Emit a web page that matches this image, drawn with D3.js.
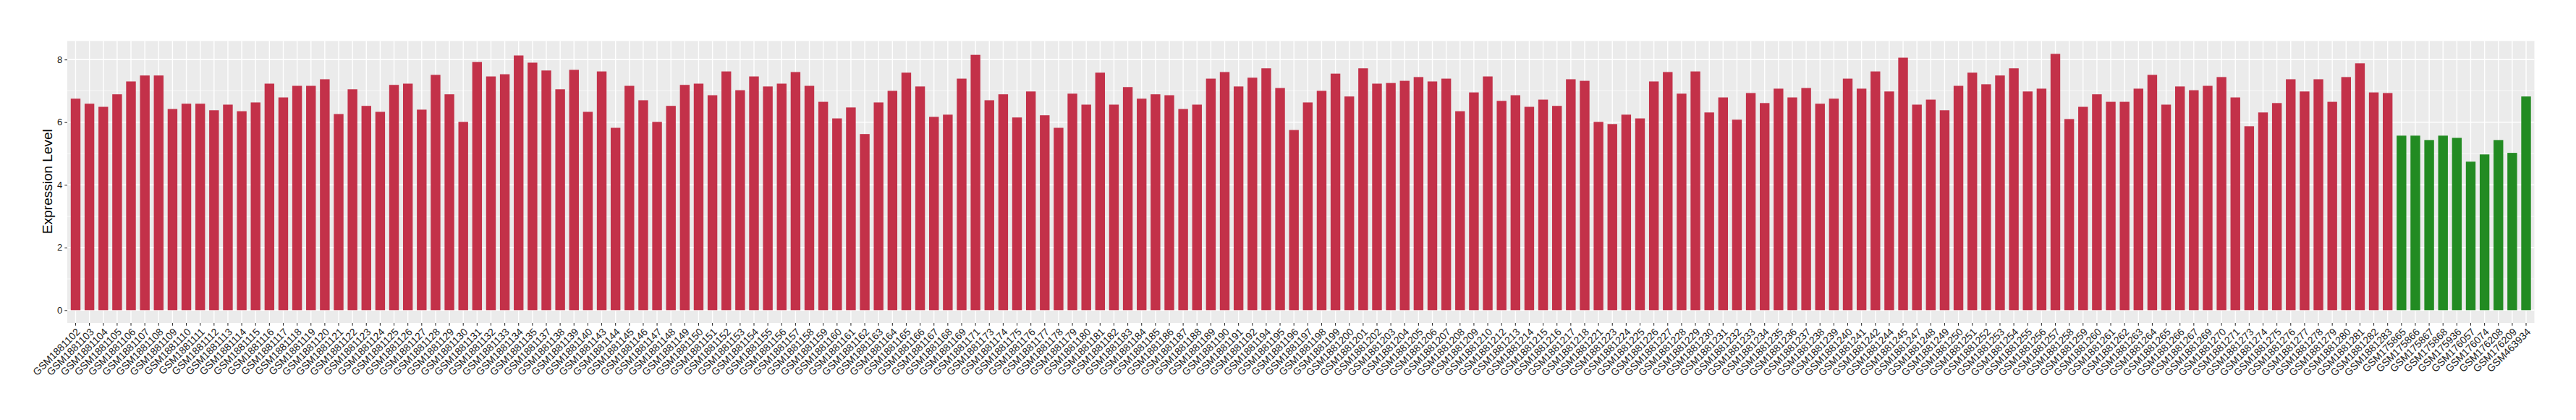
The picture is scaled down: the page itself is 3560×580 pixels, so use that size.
<!DOCTYPE html>
<html>
<head>
<meta charset="utf-8">
<script src="https://cdn.jsdelivr.net/npm/d3@7"></script>
<style>
  html, body { margin: 0; padding: 0; background: #fff; }
  svg { display: block; }
</style>
</head>
<body>
<svg id="chart" width="3560" height="580"></svg>
<script>
const redSamples = [
  "GSM1881102","GSM1881103","GSM1881104","GSM1881105","GSM1881106","GSM1881107","GSM1881108","GSM1881109","GSM1881110","GSM1881111",
  "GSM1881112","GSM1881113","GSM1881114","GSM1881115","GSM1881116","GSM1881117","GSM1881118","GSM1881119","GSM1881120","GSM1881121",
  "GSM1881122","GSM1881123","GSM1881124","GSM1881125","GSM1881126","GSM1881127","GSM1881128","GSM1881129","GSM1881130","GSM1881131",
  "GSM1881132","GSM1881133","GSM1881134","GSM1881135","GSM1881137","GSM1881138","GSM1881139","GSM1881140","GSM1881143","GSM1881144",
  "GSM1881145","GSM1881146","GSM1881147","GSM1881148","GSM1881149","GSM1881150","GSM1881151","GSM1881152","GSM1881153","GSM1881154",
  "GSM1881155","GSM1881156","GSM1881157","GSM1881158","GSM1881159","GSM1881160","GSM1881161","GSM1881162","GSM1881163","GSM1881164",
  "GSM1881165","GSM1881166","GSM1881167","GSM1881168","GSM1881169","GSM1881171","GSM1881173","GSM1881174","GSM1881175","GSM1881176",
  "GSM1881177","GSM1881178","GSM1881179","GSM1881180","GSM1881181","GSM1881182","GSM1881183","GSM1881184","GSM1881185","GSM1881186",
  "GSM1881187","GSM1881188","GSM1881189","GSM1881190","GSM1881191","GSM1881192","GSM1881194","GSM1881195","GSM1881196","GSM1881197",
  "GSM1881198","GSM1881199","GSM1881200","GSM1881201","GSM1881202","GSM1881203","GSM1881204","GSM1881205","GSM1881206","GSM1881207",
  "GSM1881208","GSM1881209","GSM1881210","GSM1881212","GSM1881213","GSM1881214","GSM1881215","GSM1881216","GSM1881217","GSM1881218",
  "GSM1881221","GSM1881223","GSM1881224","GSM1881225","GSM1881226","GSM1881227","GSM1881228","GSM1881229","GSM1881230","GSM1881231",
  "GSM1881232","GSM1881233","GSM1881234","GSM1881235","GSM1881236","GSM1881237","GSM1881238","GSM1881239","GSM1881240","GSM1881241",
  "GSM1881242","GSM1881244","GSM1881245","GSM1881247","GSM1881248","GSM1881249","GSM1881250","GSM1881251","GSM1881252","GSM1881253",
  "GSM1881254","GSM1881255","GSM1881256","GSM1881257","GSM1881258","GSM1881259","GSM1881260","GSM1881261","GSM1881262","GSM1881263",
  "GSM1881264","GSM1881265","GSM1881266","GSM1881267","GSM1881269","GSM1881270","GSM1881271","GSM1881273","GSM1881274","GSM1881275",
  "GSM1881276","GSM1881277","GSM1881278","GSM1881279","GSM1881280","GSM1881281","GSM1881282","GSM1881283"
];
const redValues = [
  6.75, 6.59, 6.49, 6.89, 7.30, 7.49, 7.49, 6.42, 6.59, 6.59, 6.38, 6.56, 6.35, 6.63, 7.23, 6.79, 7.16, 7.16, 7.37, 6.26,
  7.05, 6.52, 6.33, 7.19, 7.23, 6.40, 7.51, 6.89, 6.01, 7.92, 7.46, 7.53, 8.13, 7.90, 7.65, 7.05, 7.67,
  6.33, 7.62, 5.82, 7.16, 6.70, 6.01, 6.52, 7.19, 7.23, 6.86, 7.62, 7.02, 7.46, 7.14, 7.23, 7.60, 7.16, 6.65, 6.12, 6.47,
  5.62, 6.63, 7.00, 7.58, 7.14, 6.17, 6.24, 7.39, 8.15, 6.70, 6.89, 6.15, 6.98, 6.22, 5.82, 6.91, 6.56,
  7.58, 6.56, 7.12, 6.75, 6.89, 6.86, 6.42, 6.56, 7.39, 7.60, 7.14, 7.42, 7.72, 7.09, 5.75, 6.63, 7.00, 7.55, 6.82, 7.72,
  7.23, 7.25, 7.32, 7.44, 7.30, 7.39, 6.35, 6.95, 7.46, 6.68, 6.86, 6.49, 6.72, 6.52, 7.37, 7.32, 6.01,
  5.94, 6.24, 6.12, 7.30, 7.60, 6.91, 7.62, 6.31, 6.79, 6.08, 6.93, 6.61, 7.07, 6.79, 7.09, 6.59, 6.75, 7.39, 7.07, 7.62,
  6.98, 8.06, 6.56, 6.72, 6.38, 7.16, 7.58, 7.21, 7.49, 7.72, 6.98, 7.07, 8.18, 6.10, 6.49, 6.89, 6.65,
  6.65, 7.07, 7.51, 6.56, 7.14, 7.02, 7.16, 7.44, 6.79, 5.87, 6.31, 6.61, 7.37, 6.98, 7.37, 6.65, 7.44, 7.88, 6.95, 6.93
];
const greenSamples = [
  "GSM175865","GSM175866","GSM175867","GSM175868","GSM175936","GSM176057","GSM176074","GSM176208","GSM176209","GSM463934"
];
const greenValues = [5.57, 5.57, 5.43, 5.57, 5.50, 4.74, 4.97, 5.43, 5.02, 6.82];
const yTicks = [0, 2, 4, 6, 8];
const yMinor = [1, 3, 5, 7];
const yTitle = "Expression Level";
const redColor = "#C33149";
const greenColor = "#228B22";

const rows = redSamples.map((s, i) => ({ name: s, value: redValues[i], color: redColor }))
  .concat(greenSamples.map((s, i) => ({ name: s, value: greenValues[i], color: greenColor })));

const panel = { left: 93, top: 56.7, right: 3502.5, bottom: 446 };
const svg = d3.select("#chart");
const font = "'Liberation Sans', Arial, Helvetica, sans-serif";

const maxV = d3.max(rows, d => d.value);
const ext = maxV * 0.05;
const y = d3.scaleLinear().domain([-ext, maxV + ext]).range([panel.bottom, panel.top]);
const x = d3.scaleBand().domain(rows.map(d => d.name))
  .range([panel.left, panel.right]).paddingInner(0.3).paddingOuter(0.25);

// panel background
svg.append("rect").attr("x", panel.left).attr("y", panel.top)
  .attr("width", panel.right - panel.left).attr("height", panel.bottom - panel.top)
  .attr("fill", "#EBEBEB");

const grid = svg.append("g");
grid.selectAll("line.minor").data(yMinor).join("line")
  .attr("x1", panel.left).attr("x2", panel.right)
  .attr("y1", d => y(d)).attr("y2", d => y(d))
  .attr("stroke", "#fff").attr("stroke-width", 0.7);
grid.selectAll("line.major").data(yTicks).join("line")
  .attr("x1", panel.left).attr("x2", panel.right)
  .attr("y1", d => y(d)).attr("y2", d => y(d))
  .attr("stroke", "#fff").attr("stroke-width", 1.4);
grid.selectAll("line.vx").data(rows).join("line")
  .attr("x1", d => x(d.name) + x.bandwidth() / 2).attr("x2", d => x(d.name) + x.bandwidth() / 2)
  .attr("y1", panel.top).attr("y2", panel.bottom)
  .attr("stroke", "#fff").attr("stroke-width", 1.4);

// bars
svg.append("g").selectAll("rect").data(rows).join("rect")
  .attr("x", d => x(d.name)).attr("width", x.bandwidth())
  .attr("y", d => y(d.value)).attr("height", d => y(0) - y(d.value))
  .attr("fill", d => d.color);

// y axis
const yAxis = svg.append("g").attr("transform", `translate(${panel.left},0)`)
  .call(d3.axisLeft(y).tickValues(yTicks).tickSize(3.7).tickPadding(3).tickFormat(d3.format("d")));
yAxis.select(".domain").remove();
yAxis.selectAll("line").attr("stroke", "#333").attr("stroke-width", 1.07);
yAxis.selectAll("text").attr("fill", "#1a1a1a").style("font-family", font).style("font-size", "13px");

// x axis
const xAxis = svg.append("g").attr("transform", `translate(0,${panel.bottom})`)
  .call(d3.axisBottom(x).tickSize(3.7).tickPadding(0));
xAxis.select(".domain").remove();
xAxis.selectAll("line").attr("stroke", "#333").attr("stroke-width", 1.07);
xAxis.selectAll("text")
  .attr("fill", "#1a1a1a").style("font-family", font).style("font-size", "14px")
  .attr("text-anchor", "end")
  .attr("dy", "0.72em")
  .attr("transform", "translate(0,6) rotate(-45)")
  .attr("y", 0).attr("x", 0);

// y title
svg.append("text")
  .attr("transform", `translate(72,${(y(0) + y(8.4)) / 2 + 4}) rotate(-90)`)
  .attr("text-anchor", "middle")
  .style("font-family", font).style("font-size", "19px").attr("fill", "#000")
  .text(yTitle);
</script>
</body>
</html>
